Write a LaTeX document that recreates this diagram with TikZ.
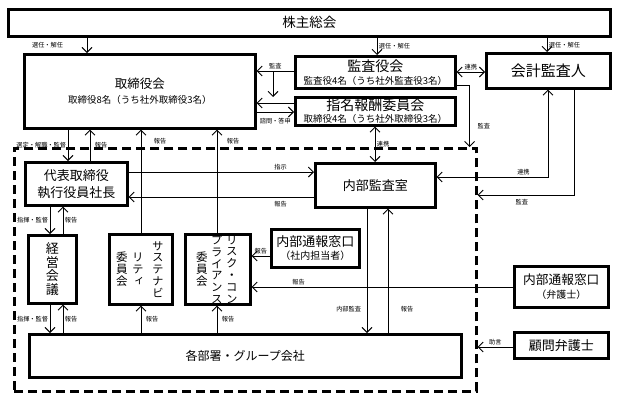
\documentclass[tikz,border=0pt]{standalone}
\usepackage{fontspec}
\setmainfont{Noto Sans CJK JP}
\newfontfamily\tatefont[RawFeature=+vert]{Noto Sans CJK JP}
\newcommand{\fsz}[1]{\fontsize{#1}{#1}\selectfont}
\usetikzlibrary{arrows.meta,positioning}

\begin{document}
\begin{tikzpicture}[x=1pt,y=-1pt,
    box/.style={draw, line width=2.6pt, anchor=north west, inner sep=0pt, align=center},
    dashframe/.style={draw, dash pattern=on 9pt off 5pt, line width=2.6pt, anchor=north west, inner sep=0pt},
    arr/.style={-{Straight Barb[length=5pt,width=10pt]}, line width=0.9pt},
    dbl/.style={{Straight Barb[length=5pt,width=10pt]}-{Straight Barb[length=5pt,width=10pt]}, line width=0.9pt},
    lbl/.style={font=\fsz{6.2}, inner sep=1.5pt},
    tatecol/.style={font=\tatefont\fontsize{11.5}{11.8}\selectfont, align=center, inner sep=0pt}]

    \useasboundingbox (0,0) rectangle (621,402);

    % boxes
    \node[box, minimum width=602, minimum height=27] (kabu) at (7,8) {\fsz{13.5}株主総会};
    \node[box, minimum width=231, minimum height=74] (tori) at (23,53)
        {{\fsz{12.5}取締役会}\\[3pt]{\fsz{9.5}取締役8名（うち社外取締役3名）}};
    \node[box, minimum width=160, minimum height=32] (kansa) at (294,55)
        {{\fsz{14}監査役会}\\[1pt]{\fsz{9.5}監査役4名（うち社外監査役3名）}};
    \node[box, minimum width=160, minimum height=28] (shimei) at (294,96)
        {{\fsz{14}指名報酬委員会}\\[0pt]{\fsz{9.5}取締役4名（うち社外取締役3名）}};
    \node[box, minimum width=124, minimum height=35] (kaikei) at (485,52) {\fsz{15}会計監査人};

    \node[dashframe, minimum width=462, minimum height=243] (waku) at (13,147) {};

    \node[box, minimum width=102, minimum height=43, font=\fontsize{13}{17}\selectfont] (daihyo) at (24,161)
        {代表取締役\\執行役員社長};
    \node[box, minimum width=120, minimum height=44] (naibu) at (314,162) {\fsz{13}内部監査室};
    \node[box, minimum width=48, minimum height=68, font=\fontsize{13}{13.5}\selectfont] (keiei) at (27,234)
        {経\\営\\会\\議};
    \node[box, minimum width=63, minimum height=70] (sus) at (108,233) {};
    \node[box, minimum width=65, minimum height=70] (risk) at (184,233) {};
    \node[box, minimum width=88, minimum height=38] (tsuho1) at (270,228)
        {{\fsz{13}内部通報窓口}\\[1pt]{\fsz{10}（社内担当者）}};
    \node[box, minimum width=94, minimum height=41] (tsuho2) at (513,265)
        {{\fsz{12.7}内部通報窓口}\\[2pt]{\fsz{10}（弁護士）}};
    \node[box, minimum width=94, minimum height=26] (komon) at (513,331) {\fsz{13}顧問弁護士};
    \node[box, minimum width=432, minimum height=43] (kakubu) at (28,333) {\fsz{12}各部署・グループ会社};

    % vertical texts
    \node[tatecol] (sus-a) at ([xshift=17]sus.center) {サ\\ス\\テ\\ナ\\ビ};
    \node[tatecol] (sus-b) at ([xshift=-3]sus.center) {リ\\テ\\ィ};
    \node[tatecol] (sus-c) at ([xshift=-19]sus.center) {委\\員\\会};
    \node[tatecol] (risk-a) at ([xshift=14]risk.center) {リ\\ス\\ク\\・\\コ\\ン};
    \node[tatecol] (risk-b) at ([xshift=-1]risk.center) {プ\\ラ\\イ\\ア\\ン\\ス};
    \node[tatecol] (risk-c) at ([xshift=-16]risk.center) {委\\員\\会};

    % shareholders
    \draw[arr] ([xshift=80]kabu.south west) -- ([xshift=64]tori.north west) node[lbl, midway, left=22pt] {選任・解任};
    \draw[arr] ([xshift=370]kabu.south west) -- ([xshift=83]kansa.north west) node[lbl, midway, right] {選任・解任};
    \draw[arr] ([xshift=540]kabu.south west) -- ([xshift=62]kaikei.north west) node[lbl, midway, right] {選任・解任};

    % board, auditors, committee
    \draw[arr] ([yshift=-16]kansa.north west) -- ([yshift=-16]kansa.north west -| tori.east) node[lbl, midway, above] {監査};
    \coordinate (shimon) at (273,97);
    \draw[arr] ([xshift=-21,yshift=-16]kansa.north west) -- (shimon);
    \draw[arr] ([yshift=-7]shimei.north west) -- ([yshift=-7]shimei.north west -| tori.east);
    \draw[arr] ([yshift=-16]shimei.north west -| tori.east) -- ([yshift=-16]shimei.north west) node[lbl, midway, below=4pt] {諮問・答申};
    \draw[dbl] ([yshift=-17]kansa.north east) -- ([yshift=-17]kansa.north east -| kaikei.west) node[lbl, midway, above] {連携};
    \draw[arr] ([yshift=-30]kansa.north east) -| ([xshift=-8]waku.north east) node[lbl, pos=0.83, right=6pt] {監査};
    \draw[dbl] ([xshift=81]shimei.south west) -- ([xshift=61]naibu.north west) node[lbl, midway, right] {連携};
    \draw[dbl] ([xshift=63]kaikei.south west) |- ([yshift=-15]naibu.north east) node[lbl, pos=0.61, above] {連携};
    \draw[arr] ([xshift=89]kaikei.south west) |- ([yshift=-48]waku.north east) node[lbl, pos=0.77, below=2pt] {監査};

    % board and executives
    \draw[arr] ([xshift=45]tori.south west) -- ([xshift=44]daihyo.north west) node[lbl, midway, left] {選定・解職・監督};
    \draw[arr] ([xshift=66]daihyo.north west) -- ([xshift=67]tori.south west) node[lbl, midway, right=3pt] {報告};
    \draw[arr] ([xshift=33]sus.north west) -- ([xshift=118]tori.south west) node[lbl, pos=0.89, right=11pt] {報告};
    \draw[arr] ([xshift=33]risk.north west) -- ([xshift=194]tori.south west) node[lbl, pos=0.89, right=8pt] {報告};
    \draw[arr] ([yshift=-11]daihyo.north east) -- ([yshift=-11]daihyo.north east -| naibu.west) node[lbl, pos=0.82, above] {指示};
    \draw[arr] ([yshift=-35]naibu.north west) -- ([yshift=-35]naibu.north west -| daihyo.east) node[lbl, pos=0.18, below=2pt] {報告};
    \draw[arr] ([xshift=26]daihyo.south west) -- ([xshift=23]keiei.north west) node[lbl, midway, left] {指揮・監督};
    \draw[arr] ([xshift=36]keiei.north west) -- ([xshift=39]daihyo.south west) node[lbl, midway, right] {報告};
    \draw[arr] ([xshift=23]keiei.south west) -- ([xshift=22]kakubu.north west) node[lbl, midway, left] {指揮・監督};
    \draw[arr] ([xshift=35]kakubu.north west) -- ([xshift=36]keiei.south west) node[lbl, midway, right] {報告};
    \draw[arr] ([xshift=113]kakubu.north west) -- ([xshift=33]sus.south west) node[lbl, midway, right=3pt] {報告};
    \draw[arr] ([xshift=189]kakubu.north west) -- ([xshift=33]risk.south west) node[lbl, midway, right=3pt] {報告};

    % whistleblowing and audit
    \draw[arr] ([yshift=-28]tsuho1.north west) -- ([yshift=-28]tsuho1.north west -| risk.east) node[lbl, midway, above] {報告};
    \draw[arr] ([yshift=-22]tsuho2.north west) -- ([yshift=-22]tsuho2.north west -| risk.east) node[lbl, pos=0.82, above] {報告};
    \draw[arr] ([xshift=53]naibu.south west) -- ([xshift=339]kakubu.north west) node[lbl, pos=0.81, left=4pt] {内部監査};
    \draw[arr] ([xshift=360]kakubu.north west) -- ([xshift=74]naibu.south west) node[lbl, pos=0.19, right=11pt] {報告};
    \draw[arr] ([yshift=-16]komon.north west) -- ([yshift=-16]komon.north west -| waku.east) node[lbl, midway, above] {助言};

\end{tikzpicture}
\end{document}
